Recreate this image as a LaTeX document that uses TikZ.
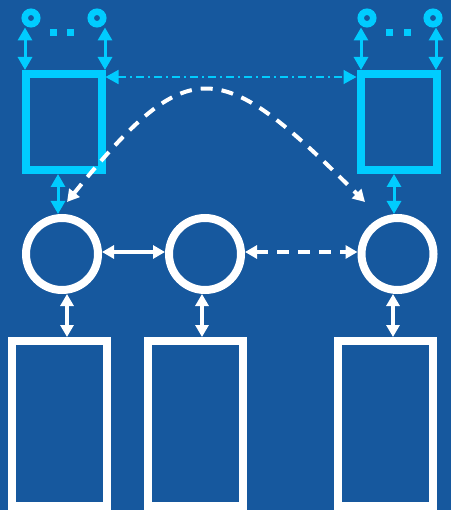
\documentclass[tikz,border=0pt]{standalone}
\usetikzlibrary{arrows.meta}
\definecolor{bgblue}{RGB}{22,88,158}
\definecolor{skycyan}{RGB}{0,204,255}
\tikzset{
  wtip/.tip={Triangle[length=12pt,width=13pt]},
  ctip/.tip={Triangle[length=13pt,width=14pt]},
  ring/.style={circle, draw=white, line width=8pt, minimum size=72pt, inner sep=0pt},
  tinyring/.style={circle, draw=skycyan, line width=6.5pt, minimum size=12.5pt, inner sep=0pt},
  topbox/.style={rectangle, draw=skycyan, line width=8pt, minimum width=76pt, minimum height=96pt, inner sep=0pt},
  lowbox/.style={rectangle, draw=white, line width=8pt, minimum width=95pt, minimum height=165pt, inner sep=0pt},
  dotsq/.style={rectangle, fill=skycyan, minimum size=7pt, inner sep=0pt},
  warrow/.style={draw=white, line width=3.5pt, {wtip}-{wtip}},
  wdash/.style={draw=white, line width=4pt, dash pattern=on 12pt off 9pt, {wtip}-{wtip}},
  carrow/.style={draw=skycyan, line width=3pt, {ctip}-{ctip}},
  cdashdot/.style={draw=skycyan, line width=1.6pt, dash pattern=on 8pt off 4pt on 2pt off 4pt, {ctip}-{ctip}}
}
\begin{document}
\begin{tikzpicture}[x=1pt,y=-1pt]
  % background
  \fill[bgblue] (0,0) rectangle (451,510);
  \useasboundingbox (0,0) rectangle (451,510);

  % upper pair of boxes with their small terminals
  \node[topbox] (bL) at (63.5,122) {};
  \node[topbox] (bR) at (398.5,122) {};
  \node[tinyring] (rL1) at (31,18) {};
  \node[tinyring] (rL2) at (97,18) {};
  \node[tinyring] (rR1) at (367,18) {};
  \node[tinyring] (rR2) at (433,18) {};
  \node[dotsq] (dL1) at (53.5,33) {};
  \node[dotsq] (dL2) at (70.5,33) {};
  \node[dotsq] (dR1) at (389.5,33) {};
  \node[dotsq] (dR2) at (407.5,33) {};

  % middle row of circles
  \node[ring] (cL) at (62,254) {};
  \node[ring] (cM) at (205,254) {};
  \node[ring] (cR) at (397.5,254) {};

  % lower row of tall boxes
  \node[lowbox] (lL) at (59.5,423.5) {};
  \node[lowbox] (lM) at (195.5,423.5) {};
  \node[lowbox] (lR) at (385.5,423.5) {};

  % arrow columns
  \coordinate (aL1) at (25,0);
  \coordinate (aL2) at (105,0);
  \coordinate (aR1) at (361,0);
  \coordinate (aR2) at (436,0);
  \coordinate (vL) at (58,0);
  \coordinate (vR) at (394,0);
  \coordinate (wL) at (67,0);
  \coordinate (wM) at (202,0);
  \coordinate (wR) at (393,0);

  % terminals to upper boxes
  \draw[carrow] (aL1 |- rL1.south) -- (aL1 |- bL.north);
  \draw[carrow] (aL2 |- rL2.south) -- (aL2 |- bL.north);
  \draw[carrow] (aR1 |- rR1.south) -- (aR1 |- bR.north);
  \draw[carrow] (aR2 |- rR2.south) -- (aR2 |- bR.north);

  % link between upper boxes
  \draw[cdashdot] ([yshift=-7pt]bL.north east) -- ([yshift=-7pt]bR.north west);

  % upper boxes to circles
  \draw[carrow] (vL |- bL.south) -- (vL |- cL.north);
  \draw[carrow] (vR |- bR.south) -- (vR |- cR.north);

  % circles to lower boxes
  \draw[warrow] (wL |- cL.south) -- (wL |- lL.north);
  \draw[warrow] (wM |- cM.south) -- (wM |- lM.north);
  \draw[warrow] (wR |- cR.south) -- (wR |- lR.north);

  % links between circles
  \draw[warrow] ([yshift=2pt]cL.east) -- ([yshift=2pt]cM.west);
  \draw[wdash] ([yshift=2pt]cM.east) -- ([yshift=2pt]cR.west);

  % long dashed arc
  \coordinate (arcL) at (67,202);
  \coordinate (arcR) at (365,202);
  \draw[wdash] (arcL) .. controls (190,50) and (220,57) .. (arcR);
\end{tikzpicture}
\end{document}
